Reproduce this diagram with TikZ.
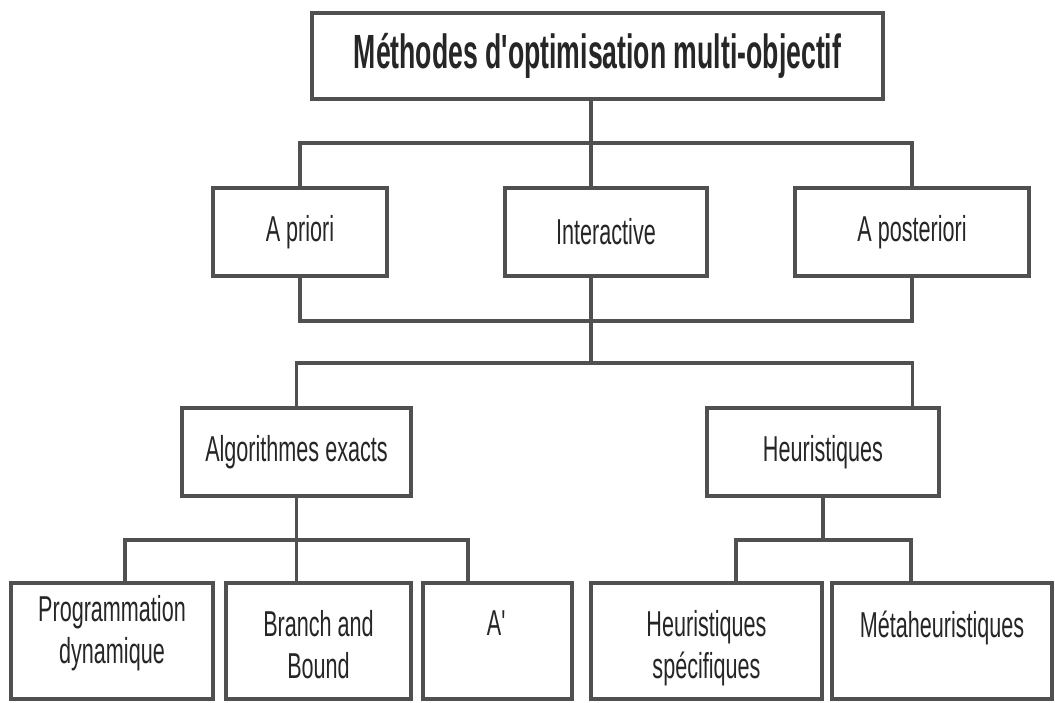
\documentclass[tikz,border=0pt]{standalone}
\usepackage{fontspec}
\setmainfont{Liberation Sans}[FakeStretch=0.6]
\newfontfamily\titlefont{Liberation Sans}[FakeStretch=0.555]
\usetikzlibrary{positioning}
\definecolor{methgray}{RGB}{80,80,80}

\begin{document}
\begin{tikzpicture}[
  x=1pt, y=-1pt,
  every node/.style={font=\fontsize{36}{42}\selectfont, text=black!85},
  methbox/.style={draw=methgray, line width=3.2pt, fill=white, inner sep=0pt, minimum height=88pt},
  celltxt/.style={inner sep=0pt, align=center},
  conn/.style={draw=methgray, line width=3.2pt},
]
\useasboundingbox (0,0) rectangle (1055,702);

%% Root box
\node[methbox, minimum width=571pt, minimum height=86pt,
  font=\titlefont\fontsize{48}{56}\selectfont\bfseries] (root) at (597.5,56)
  {Méthodes d'optimisation multi-objectif};

%% Level 1: when the decision maker steps in
\foreach \nm/\cx/\wid/\lab in {
  apriori/300/174/A priori,
  interactive/606/202/Interactive,
  aposteriori/912/234/A posteriori%
}{
  \node[methbox, minimum width=\wid pt] (\nm) at (\cx,232) {\lab};
}

%% Level 2: families
\node[methbox, minimum width=229pt] (algo) at (296.5,452) {Algorithmes exacts};
\node[methbox, minimum width=232pt] (heur) at (823,452) {Heuristiques};

%% Level 3: leaves (text sits near the top of each box)
\foreach \nm/\cx/\wid in {
  prog/112/202,
  branch/318.5/185,
  astar/497.5/149,
  heurspec/706.5/231,
  meta/942/220%
}{
  \node[methbox, minimum width=\wid pt, minimum height=116pt] (\nm) at (\cx,641) {};
}
\node[celltxt, below=14pt of prog.north] (progtxt) {Programmation\\dynamique};
\node[celltxt, below=29pt of branch.north] (branchtxt) {Branch and\\Bound};
\node[celltxt, below=29pt of astar.north] (astartxt) {A\textquotesingle};
\node[celltxt, below=29pt of heurspec.north] (heurspectxt) {Heuristiques\\spécifiques};
\node[celltxt, below=29pt of meta.north] (metatxt) {Métaheuristiques};

%% Connectors
\coordinate (bus1) at (591,143);
\coordinate (bus2) at (591,321);
\coordinate (bus3) at (591,363);
\coordinate (bus4) at (296.5,540);
\coordinate (bus5) at (823,540);

\draw[conn] (root.south -| bus1) -- (bus1);
\draw[conn] (apriori.north) |- (bus1) -| (aposteriori.north);
\draw[conn] (bus1) -- (bus1 |- interactive.north);
\draw[conn] (apriori.south) |- (bus2) -| (aposteriori.south);
\draw[conn] (interactive.south -| bus2) -- (bus3);
\draw[conn] (algo.north) |- (bus3) -| ([xshift=-28pt]heur.north east);

\draw[conn] (algo.south) -- (bus4);
\draw[conn] ([xshift=13pt]prog.north) |- (bus4) -| ([xshift=-29.5pt]astar.north);
\draw[conn] (bus4) -- (bus4 |- branch.north);
\draw[conn] (heur.south) -- (bus5);
\draw[conn] ([xshift=29.5pt]heurspec.north) |- (bus5) -| ([xshift=-31pt]meta.north);

\end{tikzpicture}
\end{document}
